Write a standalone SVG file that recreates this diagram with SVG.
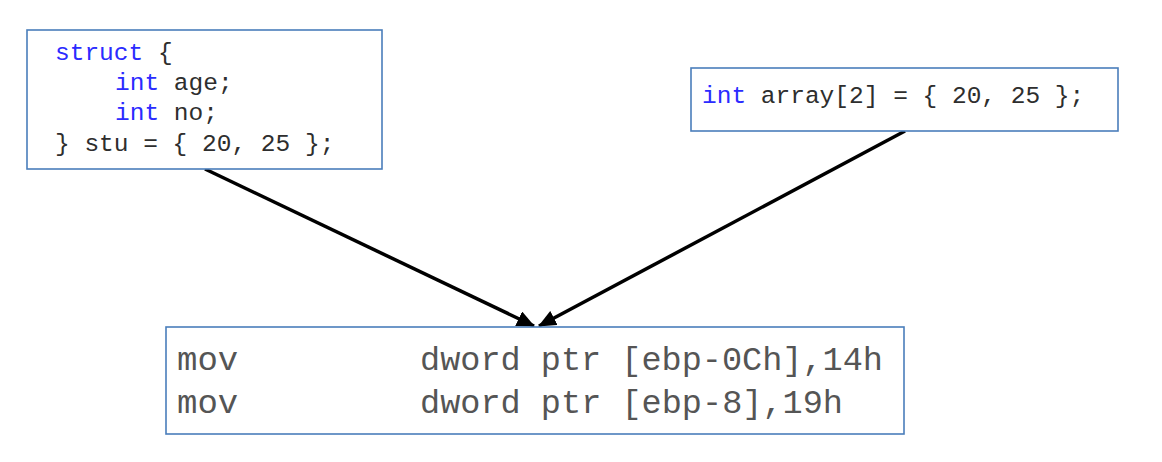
<svg xmlns="http://www.w3.org/2000/svg" width="1162" height="462" viewBox="0 0 1162 462">
<style>
.box{fill:#ffffff;stroke:#4a7ebb;stroke-width:1.6}
.code{font-family:"Liberation Mono","Courier New",monospace;font-size:24.5px;fill:#2e2e2e}
.kw{fill:#2b2bff}
.asm{font-family:"Liberation Mono","Courier New",monospace;font-size:34px;fill:#555555}
.conn{stroke:#000;stroke-width:3.5;fill:none}
</style>
<defs>
<marker id="ah" markerUnits="userSpaceOnUse" markerWidth="20" markerHeight="16" refX="17" refY="8" orient="auto">
<path d="M0,0 L18,8 L0,16 z" fill="#000"/>
</marker>
</defs>
<rect width="1162" height="462" fill="#ffffff"/>
<g id="connectors">
<line class="conn" x1="205" y1="169" x2="534" y2="326" marker-end="url(#ah)"/>
<line class="conn" x1="905" y1="131" x2="539" y2="326" marker-end="url(#ah)"/>
</g>
<g id="struct">
<rect class="box" x="27" y="30" width="355" height="139"/>
<text class="code" x="55" y="60"><tspan class="kw">struct</tspan> {</text>
<text class="code" x="115" y="90"><tspan class="kw">int</tspan> age;</text>
<text class="code" x="115" y="120"><tspan class="kw">int</tspan> no;</text>
<text class="code" x="55" y="151">} stu = { 20, 25 };</text>
</g>
<g id="array">
<rect class="box" x="691" y="68" width="427" height="63"/>
<text class="code" x="702" y="103"><tspan class="kw">int</tspan> array[2] = { 20, 25 };</text>
</g>
<g id="asm">
<rect class="box" x="166" y="327" width="738" height="107"/>
<text class="asm" x="177" y="370">mov</text>
<text class="asm" x="420" y="370" textLength="463" lengthAdjust="spacingAndGlyphs">dword ptr [ebp-0Ch],14h</text>
<text class="asm" x="177" y="413">mov</text>
<text class="asm" x="420" y="413" textLength="423" lengthAdjust="spacingAndGlyphs">dword ptr [ebp-8],19h</text>
</g>
</svg>
